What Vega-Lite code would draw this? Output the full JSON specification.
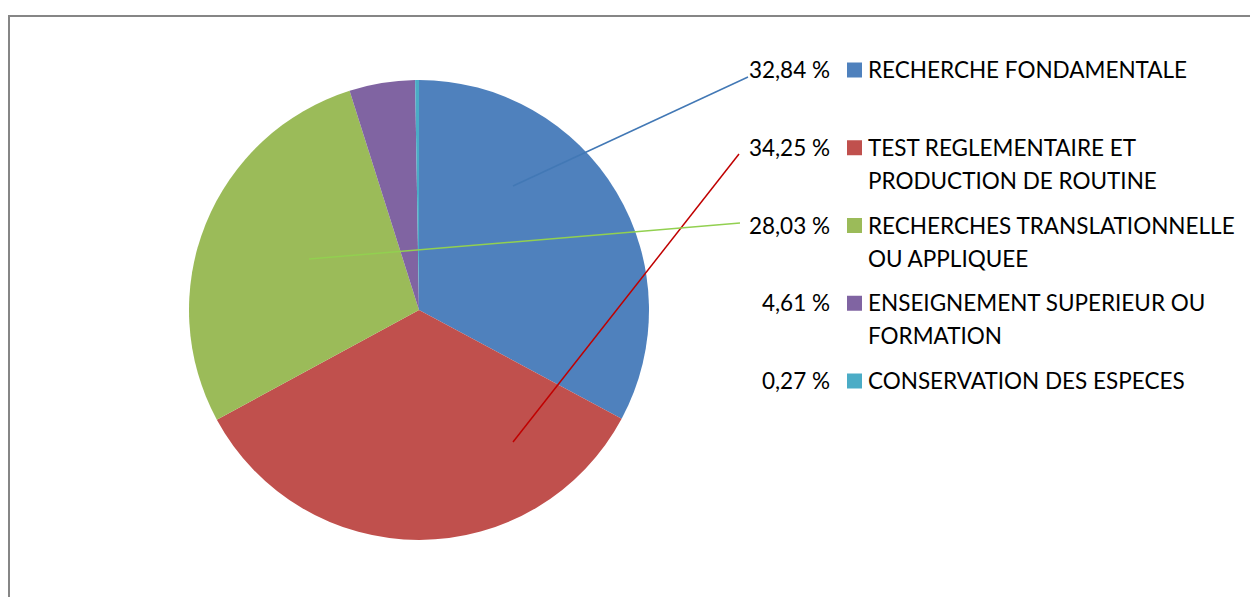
{
  "$schema": "https://vega.github.io/schema/vega-lite/v6.json",
  "width": 1250,
  "height": 597,
  "autosize": {"type": "fit", "contains": "padding"},
  "padding": {"left": 9, "top": 16, "right": -3, "bottom": -3},
  "background": "white",
  "config": {
    "view": {"stroke": "#868686", "strokeWidth": 2},
    "font": "Lato"
  },
  "datasets": {
    "parts": [
      {"categorie": "RECHERCHE FONDAMENTALE", "part": 32.84, "ordre": 1},
      {"categorie": "TEST REGLEMENTAIRE ET PRODUCTION DE ROUTINE", "part": 34.25, "ordre": 2},
      {"categorie": "RECHERCHES TRANSLATIONNELLE OU APPLIQUEE", "part": 28.03, "ordre": 3},
      {"categorie": "ENSEIGNEMENT SUPERIEUR OU FORMATION", "part": 4.61, "ordre": 4},
      {"categorie": "CONSERVATION DES ESPECES", "part": 0.27, "ordre": 5}
    ],
    "renvois": [
      {"categorie": "RECHERCHE FONDAMENTALE", "x": 504, "y": 170, "x2": 739, "y2": 61},
      {"categorie": "TEST REGLEMENTAIRE ET PRODUCTION DE ROUTINE", "x": 504, "y": 426, "x2": 730, "y2": 138},
      {"categorie": "RECHERCHES TRANSLATIONNELLE OU APPLIQUEE", "x": 300, "y": 243, "x2": 731, "y2": 207}
    ]
  },
  "resolve": {"scale": {"x": "independent", "y": "independent"}},
  "layer": [
    {
      "data": {"name": "parts"},
      "mark": {"type": "arc", "outerRadius": 230, "x": 410, "y": 294},
      "encoding": {
        "theta": {"field": "part", "type": "quantitative", "stack": true},
        "order": {"field": "ordre", "type": "quantitative"},
        "color": {
          "field": "categorie",
          "type": "nominal",
          "scale": {
            "domain": ["RECHERCHE FONDAMENTALE", "TEST REGLEMENTAIRE ET PRODUCTION DE ROUTINE", "RECHERCHES TRANSLATIONNELLE OU APPLIQUEE", "ENSEIGNEMENT SUPERIEUR OU FORMATION", "CONSERVATION DES ESPECES"],
            "range": ["#4F81BD", "#C0504D", "#9BBB59", "#8064A2", "#4BACC6"]
          },
          "legend": null
        }
      }
    },
    {
      "data": {"name": "renvois"},
      "mark": {"type": "rule", "strokeWidth": 1.5},
      "encoding": {
        "x": {"field": "x", "type": "quantitative", "scale": {"domain": [0, 1244], "nice": false, "zero": false}, "axis": null},
        "y": {"field": "y", "type": "quantitative", "scale": {"domain": [0, 584], "nice": false, "zero": false, "reverse": true}, "axis": null},
        "x2": {"field": "x2"},
        "y2": {"field": "y2"},
        "stroke": {
          "field": "categorie",
          "type": "nominal",
          "scale": {
            "domain": ["RECHERCHE FONDAMENTALE", "TEST REGLEMENTAIRE ET PRODUCTION DE ROUTINE", "RECHERCHES TRANSLATIONNELLE OU APPLIQUEE"],
            "range": ["#4278B5", "#C00000", "#92D050"]
          },
          "legend": null
        }
      }
    },
    {
      "data": {"name": "parts"},
      "layer": [
        {
          "transform": [
            {"calculate": "replace(format(datum.part, '.2f'), '.', ',') + ' %'", "as": "pctTexte"}
          ],
          "mark": {"type": "text", "align": "right", "baseline": "alphabetic", "dy": 8, "x": 821, "fontSize": 22.5, "color": "#000000"},
          "encoding": {
            "y": {"field": "categorie", "type": "ordinal", "sort": {"field": "ordre"}, "scale": {"type": "point", "range": [54, 365], "padding": 0}, "axis": null},
            "text": {"field": "pctTexte", "type": "nominal"}
          }
        },
        {
          "mark": {"type": "point", "shape": "square", "filled": true, "opacity": 1, "size": 225, "x": 845.5},
          "encoding": {
            "y": {"field": "categorie", "type": "ordinal", "sort": {"field": "ordre"}, "axis": null},
            "color": {"field": "categorie", "type": "nominal", "legend": null}
          }
        },
        {
          "transform": [
            {"calculate": "lastindexof(substring(datum.categorie, 0, 29), ' ')", "as": "coupure"},
            {"calculate": "length(datum.categorie) > 28 ? substring(datum.categorie, 0, datum.coupure) + '\\n' + substring(datum.categorie, datum.coupure + 1) : datum.categorie", "as": "libelle"}
          ],
          "mark": {"type": "text", "align": "left", "baseline": "alphabetic", "dy": 8, "x": 859, "fontSize": 22.5, "lineHeight": 33, "lineBreak": "\n", "color": "#000000"},
          "encoding": {
            "y": {"field": "categorie", "type": "ordinal", "sort": {"field": "ordre"}, "axis": null},
            "text": {"field": "libelle", "type": "nominal"}
          }
        }
      ]
    }
  ]
}
